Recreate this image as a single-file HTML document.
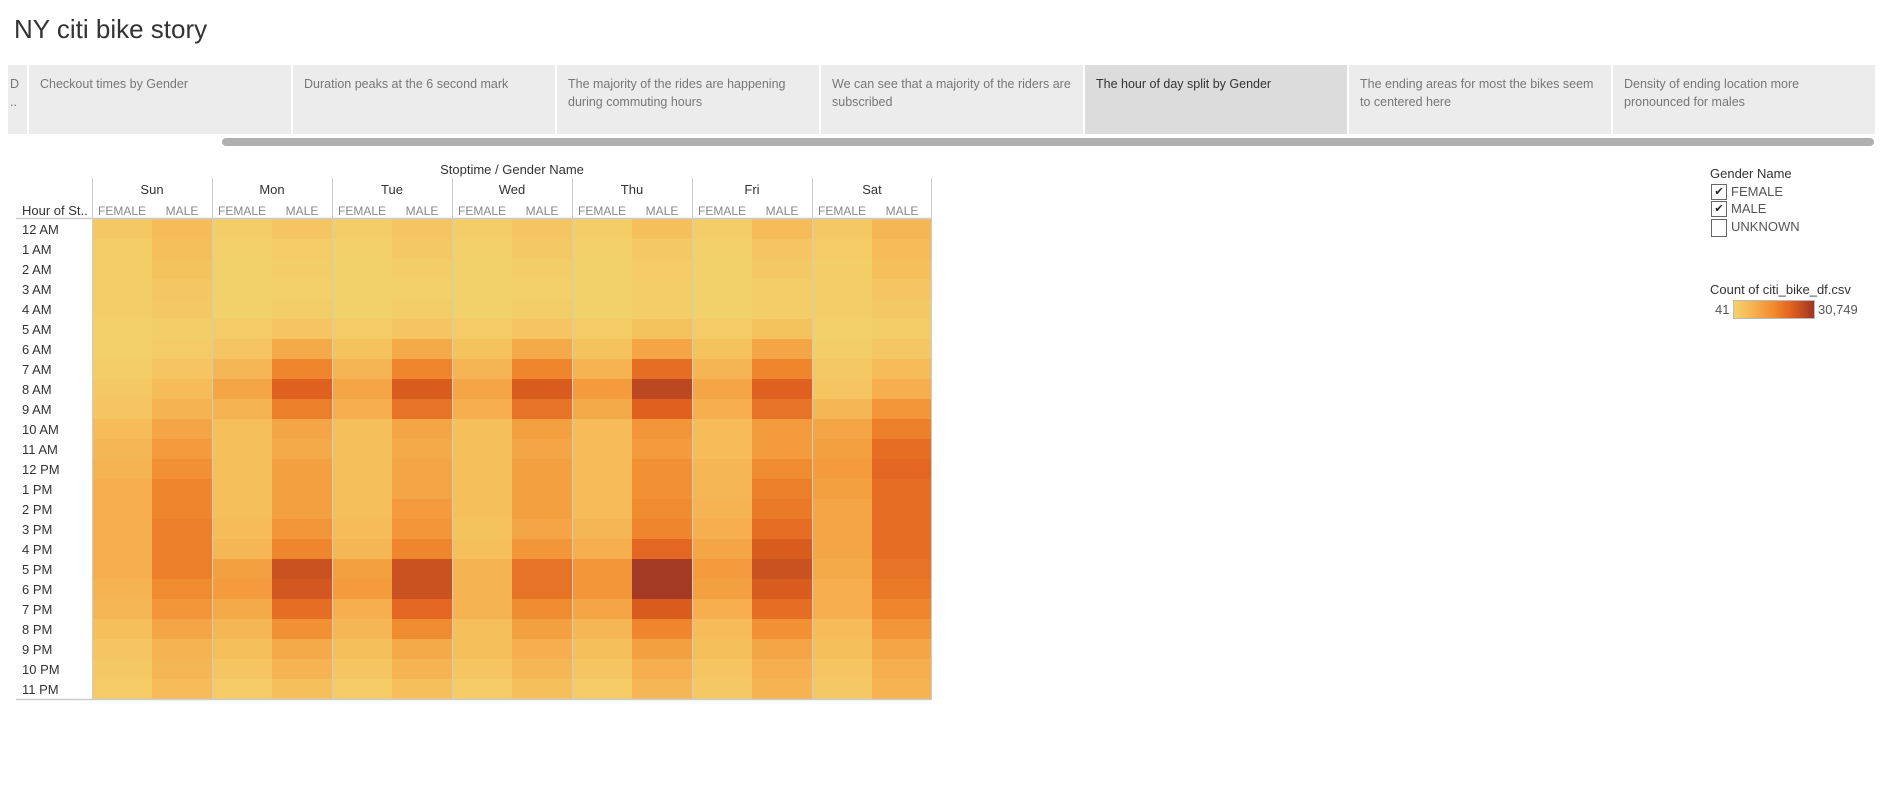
<!DOCTYPE html>
<html><head><meta charset="utf-8">
<style>
body{margin:0;width:1881px;height:797px;background:#fff;font-family:"Liberation Sans",sans-serif;overflow:hidden;position:relative}
.abs{position:absolute}
.title{left:14px;top:14px;font-size:26px;color:#333}
.tab{position:absolute;top:65px;height:69px;background:#ececec;color:#777;font-size:12.5px;line-height:18px;box-sizing:border-box;padding:10px 11px;}
.tab.sel{background:#dcdcdc;color:#333}
.lbl{position:absolute;font-size:13px;color:#333;white-space:nowrap}
.g{color:#888}
.cb{position:absolute;left:1711px;width:16px;height:16px;border:1px solid #666;box-sizing:border-box;font-size:11px;line-height:14px;text-align:center;color:#222}
</style></head><body>
<div class="abs title">NY citi bike story</div>
<div class="tab" style="left:8px;width:19px;padding:10px 2px">D<br>..</div>
<div class="tab" style="left:29px;width:262px">Checkout times by Gender</div>
<div class="tab" style="left:293px;width:262px">Duration peaks at the 6 second mark</div>
<div class="tab" style="left:557px;width:262px">The majority of the rides are happening during commuting hours</div>
<div class="tab" style="left:821px;width:262px">We can see that a majority of the riders are subscribed</div>
<div class="tab sel" style="left:1085px;width:262px">The hour of day split by Gender</div>
<div class="tab" style="left:1349px;width:262px">The ending areas for most the bikes seem to centered here</div>
<div class="tab" style="left:1613px;width:262px">Density of ending location more pronounced for males</div>
<div class="abs" style="left:222px;top:138px;width:1652px;height:8px;border-radius:4px;background:#b0b0b0"></div>

<svg class="abs" style="left:0;top:0" width="1000" height="720" id="chart"></svg>

<div class="lbl" style="left:1710px;top:166px">Gender Name</div>
<div class="cb" style="top:184px">✔</div>
<div class="lbl g" style="left:1731px;top:184px;color:#555">FEMALE</div>
<div class="cb" style="top:201px">✔</div>
<div class="lbl g" style="left:1731px;top:201px;color:#555">MALE</div>
<div class="cb" style="top:219px;height:18px"></div>
<div class="lbl g" style="left:1731px;top:219px;color:#555">UNKNOWN</div>
<div class="lbl" style="left:1710px;top:282px">Count of citi_bike_df.csv</div>
<div class="lbl" style="left:1715px;top:302px;color:#555">41</div>
<div class="abs" style="left:1733px;top:300px;width:80px;height:17px;border:1px solid #bbb;background:linear-gradient(90deg,#f3d26a,#f6b050 25%,#f08a2e 50%,#e0601f 72%,#9e3623)"></div>
<div class="lbl" style="left:1818px;top:302px;color:#555">30,749</div>

<script>
const days=["Sun","Mon","Tue","Wed","Thu","Fri","Sat"];
const genders=["FEMALE","MALE"];
const hours=["12 AM","1 AM","2 AM","3 AM","4 AM","5 AM","6 AM","7 AM","8 AM","9 AM","10 AM","11 AM","12 PM","1 PM","2 PM","3 PM","4 PM","5 PM","6 PM","7 PM","8 PM","9 PM","10 PM","11 PM"];
// counts in thousands, [hour][day] Sun..Sat
const female=[
[2,1,1,1,1,1,2],[1,0.5,0.5,0.5,0.5,0.5,1.5],[1,0.3,0.3,0.3,0.3,0.3,1],[1,0.2,0.2,0.2,0.2,0.2,1],[0.8,0.3,0.3,0.3,0.3,0.3,0.8],[0.5,1.5,1.5,1.5,1.5,1.5,0.5],
[0.5,3,3.5,3.5,3.5,3.5,1],[1,6,6.5,6.5,7,6.5,2],[2,10,10,10,12,10,3],[3,7,8,8,9,8,6],[5,4,4,4,5,5,10],[6,4,4,4,5,5,11],
[7,4,4,4,5,6,12],[8,4,4,4,5,6,11],[8,4,4,4,5,7,10],[8,5,5,3.5,6,8,10],[8,6,6,4,8,10,10],[8,11,11,7,13,12,9],
[7,12,12,7,13,11,8],[6,9,8,7,10,8,8],[4,6,6,4,6,5,5],[3,4,4,4,4,4,4],[2,3,3,3,3,3,3],[1.5,1.5,1.5,1.5,1.5,2,2]];
const male=[
[5,3,3,3,4,5,6],[4,1.5,2,2,2,3,5],[3.5,1,1,1,1.5,2,4],[2.5,0.5,0.5,0.5,0.8,1,3],[2,0.8,0.8,0.8,1,1,2],[1,3,3,3,3.5,3.5,1],
[1.5,9,9,9,10,10,2.5],[3,16,16,16,20,16,5],[5,22,23,23,27,22,8],[7,17,19,19,22,19,13],[10,10,10,11,13,12,17],[12,9,9,10,12,12,20],
[14,11,10,11,14,15,21],[16,11,10,11,14,17,20],[16,11,12,11,15,18,20],[17,13,13,10,16,20,20],[17,16,16,13,21,23,20],[17,25,25,19,30,25,19],
[15,24,25,19,30,23,18],[13,20,21,15,23,20,16],[10,14,15,11,16,14,13],[7,9,9,8,11,10,10],[6,7,7,6,8,8,8],[5,4,4,4,6,7,7]];
const maxVal=30.75;
const stops=[[0,[243,210,106]],[0.25,[246,176,80]],[0.5,[240,138,46]],[0.72,[224,96,31]],[1,[158,54,35]]];
function color(v){const t=Math.max(0,Math.min(1,v/maxVal));
for(let i=1;i<stops.length;i++){if(t<=stops[i][0]){const a=stops[i-1],b=stops[i];const f=(t-a[0])/(b[0]-a[0]);
return 'rgb('+a[1].map((c,k)=>Math.round(c+(b[1][k]-c)*f)).join(',')+')';}}return 'rgb(158,54,35)';}
const x0=92,dayW=120,colW=60,y0=219,rowH=20;
const xPos=(d,g)=>x0+d*dayW+g*colW, yPos=h=>y0+h*rowH;
const svg=document.getElementById('chart');const NS='http://www.w3.org/2000/svg';
function el(tag,attrs,txt){const e=document.createElementNS(NS,tag);for(const k in attrs)e.setAttribute(k,attrs[k]);if(txt!=null)e.textContent=txt;svg.appendChild(e);return e;}
const series=[female,male];
for(let h=0;h<hours.length;h++)for(let d=0;d<days.length;d++)for(let g=0;g<2;g++){
const r=el('rect',{x:xPos(d,g),y:yPos(h),width:colW,height:rowH,fill:color(series[g][h][d])});

}
const t=el('text',{x:x0+days.length*dayW/2,y:174,'text-anchor':'middle','font-size':13,fill:'#333','font-family':'Liberation Sans'},'Stoptime  /  Gender Name');

const ht=el('text',{x:22,y:215,'font-size':13,fill:'#333','font-family':'Liberation Sans'},'Hour of St..');

for(let d=0;d<days.length;d++){
const dl=el('text',{x:xPos(d,0)+dayW/2,y:194,'text-anchor':'middle','font-size':13,fill:'#333','font-family':'Liberation Sans'},days[d]);

for(let g=0;g<2;g++){const gl=el('text',{x:xPos(d,g)+colW/2,y:215,'text-anchor':'middle','font-size':12,fill:'#888','font-family':'Liberation Sans'},genders[g]);
}
const ln=el('line',{x1:xPos(d,0)+0.5,x2:xPos(d,0)+0.5,y1:178,y2:y0+hours.length*rowH,stroke:'#ccc'});
}
const lnE=el('line',{x1:xPos(7,0)-0.5,x2:xPos(7,0)-0.5,y1:178,y2:y0+hours.length*rowH,stroke:'#ccc'});

for(let h=0;h<hours.length;h++){const hl=el('text',{x:22,y:yPos(h)+15,'font-size':13,fill:'#333','font-family':'Liberation Sans'},hours[h]);
}
const hb=el('line',{x1:16,x2:xPos(7,0),y1:y0-0.5,y2:y0-0.5,stroke:'#ccc','stroke-width':1.5});

const bb=el('line',{x1:16,x2:xPos(7,0),y1:y0+hours.length*rowH+0.5,y2:y0+hours.length*rowH+0.5,stroke:'#ccc','stroke-width':1.5});

</script>
</body></html>
